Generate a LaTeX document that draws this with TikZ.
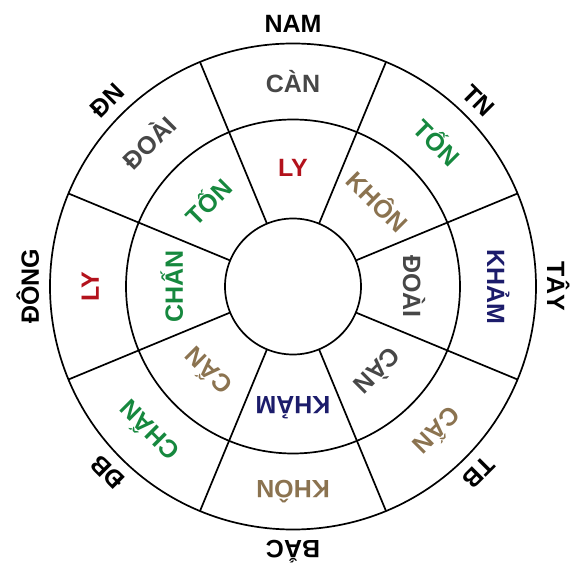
\documentclass[tikz,border=0pt]{standalone}
\usepackage{fontspec}
\setmainfont{Liberation Sans}
\definecolor{cgray}{HTML}{474747}
\definecolor{cred}{HTML}{B3121C}
\definecolor{cgreen}{HTML}{16883E}
\definecolor{ctan}{HTML}{8B7350}
\definecolor{cnavy}{HTML}{1C1C6B}
\tikzset{
  ring/.style={line width=1.7pt, draw=black},
  lbl/.style={inner sep=0pt, text height=18pt, text depth=0pt, anchor=center,
    font=\fontsize{25}{30}\selectfont\bfseries},
}
\begin{document}
\begin{tikzpicture}[x=1pt,y=1pt]
\useasboundingbox (-293,-290.5) rectangle (295,286.5);
\coordinate (O) at (0,0);
\draw[ring] (O) circle (243);
\draw[ring] (O) circle (167);
\draw[ring] (O) circle (68);
\foreach \a in {22.5,67.5,...,337.5}
  \draw[ring] (\a:68) -- (\a:243);
% compass
\foreach \a/\t/\n in {90/NAM/1,45/TN/2,0/TÂY/3,-45/TB/4,-90/BẮC/5,-135/ĐB/6,180/ĐÔNG/7,135/ĐN/8}
  \node[lbl, text=black, rotate=\a-90] (c\n) at (\a:263) {\t};
% outer ring
\foreach \a/\t/\c/\n in {90/CÀN/cgray/1,45/TỐN/cgreen/2,0/KHẢM/cnavy/3,-45/CẤN/ctan/4,-90/KHÔN/ctan/5,-135/CHẤN/cgreen/6,180/LY/cred/7,135/ĐOÀI/cgray/8}
  \node[lbl, text=\c, rotate=\a-90] (o\n) at (\a:203) {\t};
% inner ring
\foreach \a/\t/\c/\n in {90/LY/cred/1,45/KHÔN/ctan/2,0/ĐOÀI/cgray/3,-45/CÀN/cgray/4,-90/KHẢM/cnavy/5,-135/CẤN/ctan/6,180/CHẤN/cgreen/7,135/TỐN/cgreen/8}
  \node[lbl, text=\c, rotate=\a-90] (i\n) at (\a:119) {\t};
\end{tikzpicture}
\end{document}
